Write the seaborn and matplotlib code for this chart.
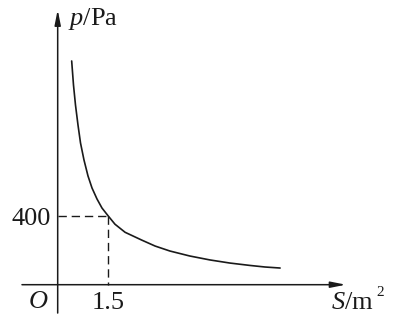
import matplotlib
matplotlib.use("Agg")
import matplotlib.pyplot as plt
import seaborn as sns
import pandas as pd

# values
area_S = [0.415, 0.469, 0.528, 0.602, 0.677, 0.78, 0.899, 1.018, 1.166, 1.315, 1.5,
          1.70, 2.00, 2.49, 2.89, 3.33, 3.92, 4.52, 5.11, 5.71, 6.15, 6.6]
pressure_p = [1302, 1162, 1046, 930, 825, 726, 633, 563, 499, 446, 400,
              352, 305, 260, 225, 196, 167, 144, 126, 112, 103, 97]
mark_S = 1.5
mark_p = 400
x_tick_label = "1.5"
y_tick_label = "400"

sns.set_style("white")
plt.rcParams["font.family"] = ["Liberation Serif", "DejaVu Serif"]
plt.rcParams["mathtext.fontset"] = "custom"
plt.rcParams["mathtext.rm"] = "Liberation Serif"
plt.rcParams["mathtext.it"] = "Liberation Serif:italic"

ink = "#1a1a1a"
fig = plt.figure(figsize=(3.94, 3.21), dpi=100)
ax = fig.add_axes([0, 0, 1, 1])
ax.set_xlim(-1.712, 9.98)
ax.set_ylim(-211.3, 1657)
ax.axis("off")

df = pd.DataFrame({"S": area_S, "p": pressure_p})
sns.lineplot(data=df, x="S", y="p", ax=ax, color=ink, linewidth=1.2,
             sort=True, estimator=None, solid_joinstyle="round",
             solid_capstyle="round")

# axes with arrows
ax.annotate("", xy=(8.55, 0), xytext=(-1.06, 0),
            arrowprops=dict(arrowstyle="-|>,head_length=0.9,head_width=0.18",
                            color=ink, lw=1.1, shrinkA=0, shrinkB=0))
ax.annotate("", xy=(0, 1600), xytext=(0, -165),
            arrowprops=dict(arrowstyle="-|>,head_length=0.9,head_width=0.18",
                            color=ink, lw=1.1, shrinkA=0, shrinkB=0))

# dashed guide lines
ax.plot([0, mark_S], [mark_p, mark_p], color=ink, lw=1.0, dashes=(6, 3.5))
ax.plot([mark_S, mark_S], [mark_p, 0], color=ink, lw=1.0, dashes=(6, 3.5))

# labels
fs = 19
ax.text(0.31, 1545, r"$p$/Pa", fontsize=fs, color=ink, ha="left", va="center")
ax.text(-0.2, mark_p - 20, y_tick_label, fontsize=fs, color=ink, ha="right", va="center")
ax.text(mark_S, -105, x_tick_label, fontsize=fs, color=ink, ha="center", va="center")
ax.text(-0.585, -100, r"$O$", fontsize=fs, color=ink, ha="center", va="center")
ax.text(8.1, -105, r"$S$/m", fontsize=fs, color=ink, ha="left", va="center")
ax.text(9.45, -45, "2", fontsize=11, color=ink, ha="left", va="center")

fig.savefig("out.png", dpi=100, facecolor="white")
